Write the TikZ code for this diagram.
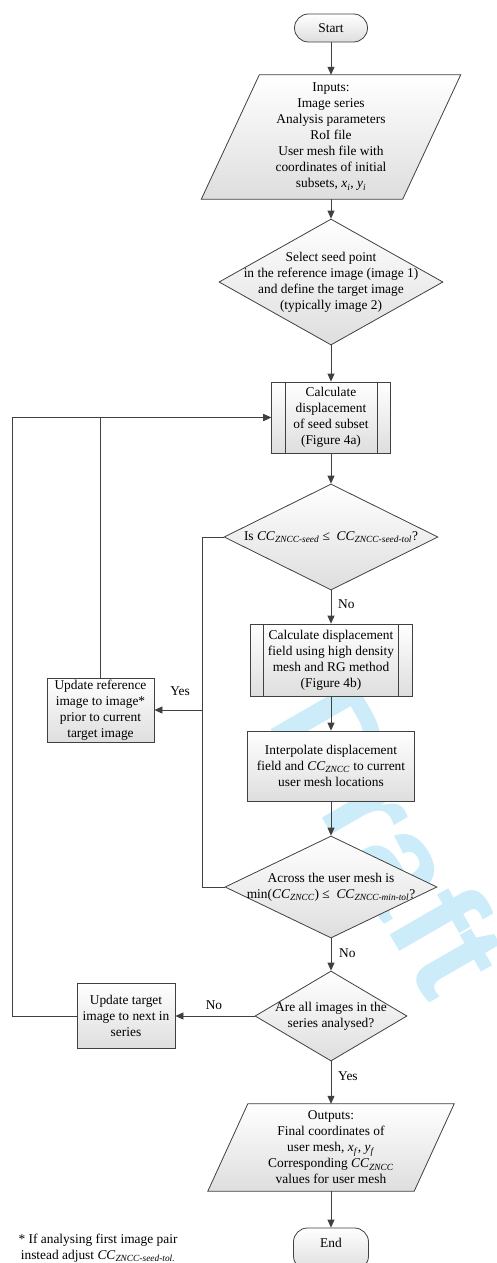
\documentclass[tikz,border=0pt]{standalone}
\usepackage{fontspec}
\setmainfont{Liberation Serif}
\newfontfamily\wmfont{Liberation Sans}
\usetikzlibrary{arrows.meta,backgrounds,shapes.geometric,calc}
\definecolor{ln}{HTML}{404040}
\definecolor{wm}{RGB}{205,236,250}
\newcommand{\CCsub}[1]{\textit{CC}\textsubscript{\textit{#1}}}
\begin{document}
\begin{tikzpicture}[x=1pt,y=-1pt,
  font=\fontsize{13.4}{16}\selectfont,
  every node/.style={inner sep=0pt},
  shadefill/.style={top color=white, bottom color=black!13},
  box/.style={draw=ln, line width=0.8pt, rectangle, shadefill, align=center},
  term/.style={box, rounded corners=14pt},
  dec/.style={diamond, draw=ln, line width=0.8pt, shadefill},
  txt/.style={align=center},
  arr/.style={draw=ln, line width=0.8pt, -{Triangle[length=8pt,width=7pt]}},
  conn/.style={draw=ln, line width=0.8pt},
  lbl/.style={inner sep=0pt}
]
\useasboundingbox (0,0) rectangle (497,1263);

% watermark
\begin{scope}[on background layer]
\node[rotate=-60, text=wm, font=\wmfont\bfseries\fontsize{140}{140}\selectfont] (wmk) at (392,838) {Draft};
\end{scope}

% main column
\node[term, minimum width=73pt, minimum height=28pt] (start) at (331,28) {Start};

\node[txt, minimum width=201pt, minimum height=124pt] (inp) at (331,137)
  {Inputs:\\Image series\\Analysis parameters\\RoI file\\User mesh file with\\coordinates of initial\\subsets, \textit{x}\textsubscript{\textit{i}}, \textit{y}\textsubscript{\textit{i}}};
\begin{scope}[on background layer]
\path[conn, shadefill] ([xshift=29pt]inp.north west) -- ([xshift=29pt]inp.north east)
  -- ([xshift=-29pt]inp.south east) -- ([xshift=-29pt]inp.south west) -- cycle;
\end{scope}

\node[dec, minimum width=224pt, minimum height=126pt] (seed) at (331,282) {};
\node[txt] (seedt) at (seed.center) {Select seed point\\in the reference image (image 1)\\and define the target image\\(typically image 2)};

\node[box, minimum width=119pt, minimum height=71pt] (cs) at (331,417.5) {Calculate\\displacement\\of seed subset\\(Figure 4a)};
\draw[conn] ([xshift=14pt]cs.north west) -- ([xshift=14pt]cs.south west);
\draw[conn] ([xshift=-14pt]cs.north east) -- ([xshift=-14pt]cs.south east);

\node[dec, minimum width=214pt, minimum height=106pt] (d2) at (331,537) {};
\node[txt] (d2t) at (d2.center) {Is \CCsub{ZNCC-seed} ≤\ \ \CCsub{ZNCC-seed-tol}?};

\node[box, minimum width=162pt, minimum height=72pt] (cf) at (331,660) {Calculate displacement\\field using high density\\mesh and RG method\\(Figure 4b)};
\draw[conn] ([xshift=14pt]cf.north west) -- ([xshift=14pt]cf.south west);
\draw[conn] ([xshift=-14pt]cf.north east) -- ([xshift=-14pt]cf.south east);

\node[box, minimum width=167pt, minimum height=70pt] (ip) at (331,766) {Interpolate displacement\\field and \CCsub{ZNCC} to current\\user mesh locations};

\node[dec, minimum width=212pt, minimum height=102pt] (d3) at (331,887) {};
\node[txt] (d3t) at (d3.center) {Across the user mesh is\\min(\CCsub{ZNCC}) ≤\ \ \CCsub{ZNCC-min-tol}?};

\node[dec, minimum width=152pt, minimum height=90pt] (d4) at (331,1016) {};
\node[txt] (d4t) at (d4.center) {Are all images in the\\series analysed?};

\node[txt, minimum width=206pt, minimum height=87pt] (out) at (331,1147.5)
  {Outputs:\\Final coordinates of\\user mesh, \textit{x}\textsubscript{\textit{f}}, \textit{y}\textsubscript{\textit{f}}\\Corresponding \CCsub{ZNCC}\\values for user mesh};
\begin{scope}[on background layer]
\path[conn, shadefill] ([xshift=20pt]out.north west) -- ([xshift=20pt]out.north east)
  -- ([xshift=-20pt]out.south east) -- ([xshift=-20pt]out.south west) -- cycle;
\end{scope}

\node[term, minimum width=75pt, minimum height=42pt] (end) at (331,1249) {};
\node[txt] (endt) at (331,1243) {End};

% left boxes
\node[box, minimum width=107pt, minimum height=64pt] (ur) at (100.5,710) {Update reference\\image to image*\\prior to current\\target image};
\node[box, minimum width=98pt, minimum height=65pt] (ut) at (126,1016) {Update target\\image to next in\\series};

\node[txt] (fn) at (98,1248) {* If analysing first image pair\\instead adjust \CCsub{ZNCC-seed-tol.}};

% connectors
\draw[arr] (start.south) -- (inp.north);
\draw[arr] (inp.south) -- (seed.north);
\draw[arr] (seed.south) -- (cs.north);
\draw[arr] (cs.south) -- (d2.north);
\draw[arr] (d2.south) -- (cf.north);
\node[lbl, anchor=west] (no1) at (338,604) {No};
\draw[arr] (cf.south) -- (ip.north);
\draw[arr] (ip.south) -- (d3.north);
\draw[arr] (d3.south) -- (d4.north);
\node[lbl, anchor=west] (no2) at (339,953) {No};
\draw[arr] (d4.south) -- (out.north);
\node[lbl, anchor=west] (yes2) at (338,1076) {Yes};
\draw[arr] (out.south) -- (end.north);

\coordinate (jy) at (202,710);
\draw[arr] (d2.west) -| (jy) -- (ur.east);
\draw[conn] (d3.west) -| (jy);
\node[lbl] (yes1) at (180,691) {Yes};
\draw[arr] (ur.north) |- (cs.west);

\draw[arr] (d4.west) -- (ut.east);
\node[lbl] (no3) at (214,1005) {No};
\draw[arr] (ut.west) -- ++(-64pt,0) |- (cs.west);
\end{tikzpicture}
\end{document}
